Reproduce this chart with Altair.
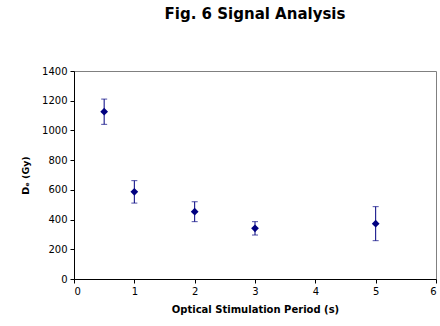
import altair as alt
import pandas as pd

period = [0.5, 1, 2, 3, 5]
de = [1126, 587, 453, 341, 372]
de_low = [1041, 511, 386, 296, 258]
de_high = [1211, 662, 520, 386, 487]

df = pd.DataFrame({"period": period, "de": de, "lo": de_low, "hi": de_high})

FONT = "DejaVu Sans"
NAVY = "#000080"

yscale = alt.Scale(domain=[0, 1400], nice=False)
yaxis = alt.Axis(title="Dₑ (Gy)", values=list(range(0, 1401, 200)), grid=False,
                 format="d", labelOverlap=False)
x = alt.X("period:Q", scale=alt.Scale(domain=[0, 6], nice=False),
          axis=alt.Axis(title="Optical Stimulation Period (s)", values=[0, 1, 2, 3, 4, 5, 6],
                        grid=False, format="d", labelOverlap=False))

rules = alt.Chart(df).mark_rule(color=NAVY, strokeWidth=1).encode(
    x=x, y=alt.Y("lo:Q", scale=yscale, axis=yaxis), y2="hi:Q")
cap_lo = alt.Chart(df).mark_tick(color=NAVY, orient="horizontal", size=6, thickness=1).encode(
    x="period:Q", y=alt.Y("lo:Q", scale=yscale, axis=yaxis))
cap_hi = alt.Chart(df).mark_tick(color=NAVY, orient="horizontal", size=6, thickness=1).encode(
    x="period:Q", y=alt.Y("hi:Q", scale=yscale, axis=yaxis))
pts = alt.Chart(df).mark_point(shape="diamond", filled=True, color=NAVY, size=60, opacity=1).encode(
    x=x, y=alt.Y("de:Q", scale=yscale, axis=yaxis))

chart = alt.layer(rules, cap_lo, cap_hi, pts).properties(
    width=362, height=208,
    title=alt.TitleParams("Fig. 6 Signal Analysis", font=FONT, fontSize=15, fontWeight="bold",
                          anchor="middle", offset=44, color="black"),
    autosize=alt.AutoSizeParams(type="none"),
    padding={"left": 74, "top": 71, "right": 4, "bottom": 47},
).configure_view(stroke="#808080", strokeWidth=1).configure_axis(
    labelFont=FONT, labelFontSize=10, labelColor="black",
    titleFont=FONT, titleFontSize=9.5, titleFontWeight="bold", titleColor="black",
    domainColor="black", tickColor="black", tickSize=4, labelPadding=3,
).configure_axisY(titlePadding=11).configure_axisX(titlePadding=8, titleFontSize=10)

chart.save("out.html", embed_options={"renderer": "svg", "actions": False})
